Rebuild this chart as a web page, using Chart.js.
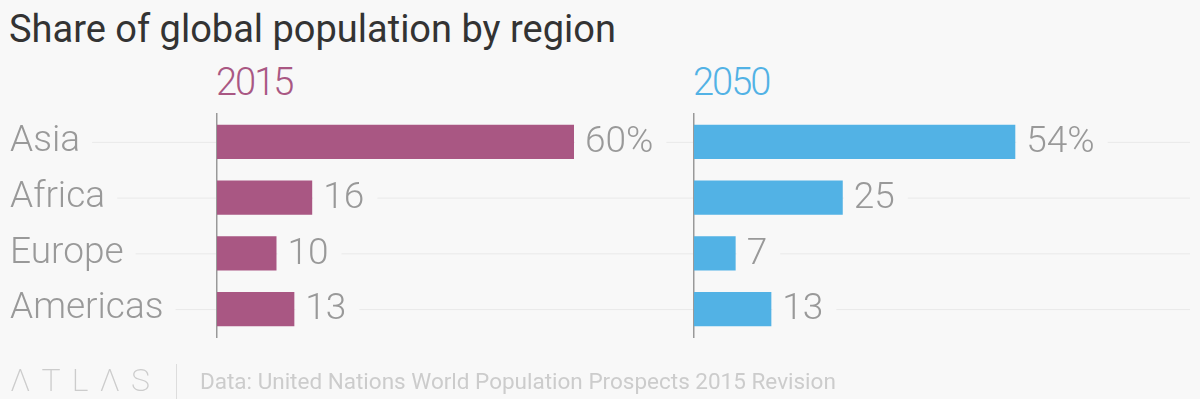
<!DOCTYPE html>
<html>
<head>
<meta charset="utf-8">
<script src="https://cdn.jsdelivr.net/npm/chart.js@4/dist/chart.umd.min.js"></script>
<style>
  html, body { margin: 0; padding: 0; background: #f8f8f8; }
  body { width: 1200px; height: 399px; position: relative; overflow: hidden; font-family: Roboto, sans-serif; }
  canvas { position: absolute; left: 0; top: 0; }
  .title { position: absolute; left: 9px; top: 7px; font-size: 38px; color: #333; line-height: 44px; }
  .year { position: absolute; top: 60px; font-size: 38px; line-height: 44px; letter-spacing: -2px; font-weight: 300; }
  .footer { position: absolute; left: 0; top: 362px; width: 1200px; height: 37px; }
  .logo { position: absolute; left: 10px; top: 0px; font-size: 32px; font-weight: 200; letter-spacing: 11px; color: #ccc; line-height: 36px; }
  .sep { position: absolute; left: 176px; top: 2px; width: 1px; height: 35px; background: #ddd; }
  .source { position: absolute; left: 200px; top: 6px; font-size: 22.5px; color: #ccc; line-height: 26px; }
</style>
</head>
<body>
<div class="title">Share of global population by region</div>
<div class="year" id="y0" style="left:216px"></div>
<div class="year" id="y1" style="left:693px"></div>
<canvas id="left" width="1200" height="399"></canvas>
<canvas id="right" width="1200" height="399"></canvas>
<div class="footer">
  <div class="logo">ΛTLΛS</div>
  <div class="sep"></div>
  <div class="source">Data: United Nations World Population Prospects 2015 Revision</div>
</div>
<script>
const regions = ['Asia', 'Africa', 'Europe', 'Americas']
const share2015 = [60, 16, 10, 13]
const share2050 = [54, 25, 7, 13]
const years = ['2015', '2050']
const yearColors = ['#a95783', '#52b2e5']

const BG = '#f8f8f8'
const LABEL_FONT = '300 37px Roboto, sans-serif'
const LABEL_COLOR = '#999'

document.getElementById('y0').textContent = years[0]
document.getElementById('y0').style.color = yearColors[0]
document.getElementById('y1').textContent = years[1]
document.getElementById('y1').style.color = yearColors[1]

// row lines across the whole width, with gaps behind the region names
const rowLines = {
    id: 'rowLines',
    beforeDraw(chart) {
        const { ctx } = chart
        const y = chart.scales.y
        ctx.save()
        ctx.font = LABEL_FONT
        regions.forEach((r, i) => {
            const py = y.getPixelForValue(i)
            ctx.strokeStyle = '#e9e9e9'
            ctx.lineWidth = 1
            ctx.beginPath()
            ctx.moveTo(10, py + 0.5)
            ctx.lineTo(1190, py + 0.5)
            ctx.stroke()
            const w = ctx.measureText(r).width
            ctx.fillStyle = BG
            ctx.fillRect(0, py - 20, 10 + w + 12, 40)
        })
        ctx.restore()
    }
}

// value labels after bar ends, masking the row line
const valueLabels = {
    id: 'valueLabels',
    afterDatasetsDraw(chart) {
        const { ctx } = chart
        const meta = chart.getDatasetMeta(0)
        const values = chart.data.datasets[0].data
        ctx.save()
        ctx.font = LABEL_FONT
        ctx.textBaseline = 'middle'
        meta.data.forEach((bar, i) => {
            const txt = i === 0 ? values[i] + '%' : String(values[i])
            const w = ctx.measureText(txt).width
            const x0 = bar.x + 1
            ctx.fillStyle = BG
            ctx.fillRect(x0, bar.y - 18, 11 + w + 12, 36)
            ctx.fillStyle = LABEL_COLOR
            ctx.fillText(txt, bar.x + 11, bar.y + 1)
        })
        ctx.restore()
    }
}

function makeChart(canvas, values, color, padLeft, padRight, showNames) {
    return new Chart(canvas.getContext('2d'), {
        type: 'bar',
        data: {
            labels: regions,
            datasets: [{
                data: values,
                backgroundColor: color,
                borderWidth: 0,
                categoryPercentage: 1,
                barPercentage: 0.61
            }]
        },
        options: {
            indexAxis: 'y',
            responsive: false,
            animation: false,
            layout: { padding: { left: padLeft, right: padRight, top: 114, bottom: 62 } },
            plugins: { legend: { display: false }, tooltip: { enabled: false } },
            scales: {
                x: { display: false, min: 0, max: 80 },
                y: {
                    grid: { display: false },
                    border: { display: true, color: '#999', width: 1.5 },
                    ticks: {
                        display: showNames,
                        crossAlign: 'far',
                        font: { family: 'Roboto, sans-serif', size: 37, weight: '300' },
                        color: LABEL_COLOR
                    },
                    afterFit: scale => { scale.width = showNames ? 207 : 0 }
                }
            }
        },
        plugins: showNames ? [rowLines, valueLabels] : [valueLabels]
    })
}

makeChart(document.getElementById('left'), share2015, yearColors[0], 10, 507, true)
makeChart(document.getElementById('right'), share2050, yearColors[1], 694, 30, false)
</script>
</body>
</html>
